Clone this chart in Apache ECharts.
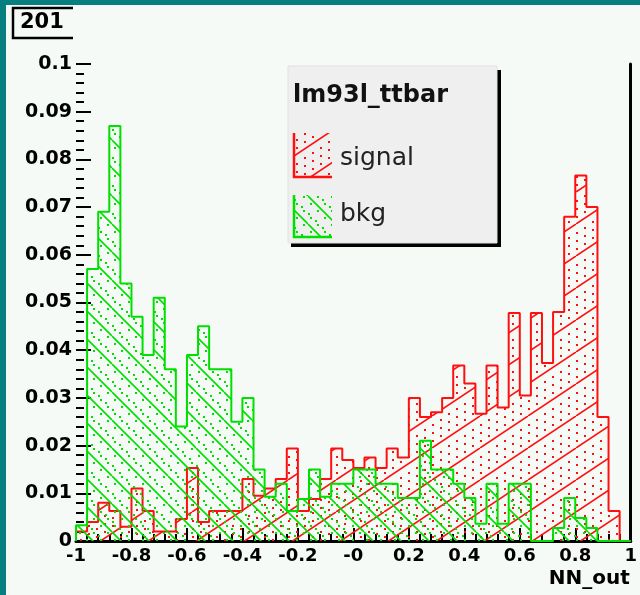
<!DOCTYPE html>
<html>
<head>
<meta charset="utf-8">
<script src="https://cdn.jsdelivr.net/npm/echarts@6/dist/echarts.min.js"></script>
<style>
  html, body { margin: 0; padding: 0; background: #f6faf7; }
  #c { width: 640px; height: 595px; }
</style>
</head>
<body>
<div id="c"></div>
<script>
// ---- data (50 bins of width 0.04 from -1 to 1) ----
const xMin = -1;
const binWidth = 0.04;
const xTickLabels = ['-1', '-0.8', '-0.6', '-0.4', '-0.2', '-0', '0.2', '0.4', '0.6', '0.8', '1'];
const signal = [
  0.002, 0.004, 0.008, 0.0063, 0.003, 0.011, 0.0063, 0.002, 0.002, 0.0046,
  0.0153, 0.004, 0.0063, 0.0063, 0.0063, 0.013, 0.0095, 0.011, 0.013, 0.0194,
  0.0063, 0.0088, 0.013, 0.0194, 0.017, 0.0153, 0.0175, 0.0153, 0.0194, 0.0175,
  0.030, 0.026, 0.027, 0.030, 0.0368, 0.033, 0.0267, 0.0368, 0.028, 0.0478,
  0.0305, 0.0478, 0.0373, 0.048, 0.068, 0.0766, 0.070, 0.026, 0.0063, 0
];
const bkg = [
  0.0033, 0.057, 0.069, 0.087, 0.054, 0.047, 0.039, 0.051, 0.036, 0.024,
  0.039, 0.045, 0.036, 0.036, 0.025, 0.030, 0.015, 0.0093, 0.012, 0.0063,
  0.0088, 0.015, 0.0093, 0.012, 0.012, 0.015, 0.015, 0.012, 0.012, 0.009,
  0.009, 0.021, 0.015, 0.015, 0.012, 0.009, 0.0036, 0.012, 0.0036, 0.012,
  0.012, 0, 0, 0.0027, 0.009, 0.0048, 0.0027, 0, 0, 0
];

const RED = '#ff1010';
const GREEN = '#00e000';

function greenPattern() {
  const S = 28;
  const c = document.createElement('canvas');
  c.width = S; c.height = S;
  const g = c.getContext('2d');
  g.strokeStyle = GREEN; g.lineWidth = 1.6;
  g.beginPath();
  [-S, 0, S].forEach(o => { g.moveTo(o, 0); g.lineTo(o + S, S); });
  g.stroke();
  g.fillStyle = GREEN;
  [7, 14, 21].forEach((off, j) => {
    for (let x = 0; x < S; x += 7) {
      const y = (x + off + (j === 1 ? 3 : 0)) % S;
      g.fillRect(x + (j === 1 ? 0 : 2), y, 2, 2);
    }
  });
  return c;
}
function redPattern() {
  const W = 48, H = 32;
  const c = document.createElement('canvas');
  c.width = W; c.height = H;
  const g = c.getContext('2d');
  g.strokeStyle = RED; g.lineWidth = 1.6;
  g.beginPath();
  [-W, 0, W].forEach(o => { g.moveTo(o, H); g.lineTo(o + W, 0); });
  g.stroke();
  g.fillStyle = RED;
  [8, 16, 24].forEach(off => {
    for (let x = 0; x < W; x += 8) {
      let y = (H - x * H / W - off) % H;
      if (y < 0) y += H;
      g.fillRect(Math.round(x), Math.round(y), 2, 2);
    }
  });
  return c;
}
const redFill = { image: redPattern(), repeat: 'repeat' };
const greenFill = { image: greenPattern(), repeat: 'repeat' };

function histPoints(vals) {
  const pts = [[xMin, 0]];
  vals.forEach((v, i) => pts.push([+(xMin + i * binWidth).toFixed(4), v]));
  const xEnd = +(xMin + vals.length * binWidth).toFixed(4);
  pts.push([xEnd, vals[vals.length - 1]]);
  pts.push([xEnd, 0]);
  return pts;
}

const chart = echarts.init(document.getElementById('c'), null, { renderer: 'canvas' });
const labelFont = { fontFamily: 'DejaVu Sans', fontWeight: 'bold', color: '#000' };

chart.setOption({
  animation: false,
  backgroundColor: '#f6faf7',
  grid: { left: 76, right: 2, top: 64, bottom: 54, show: false },
  xAxis: {
    type: 'value', min: -1, max: 1, interval: 0.2,
    name: 'NN_out', nameLocation: 'end', nameGap: 0,
    nameTextStyle: Object.assign({ fontSize: 20, align: 'right', verticalAlign: 'top', padding: [28, 1, 0, 0] }, labelFont),
    axisLine: { onZero: false, lineStyle: { color: '#000', width: 3 } },
    axisTick: { inside: true, length: 13, lineStyle: { color: '#000', width: 2 } },
    minorTick: { show: true, splitNumber: 5, length: 7, lineStyle: { color: '#000', width: 2 } },
    splitLine: { show: false },
    axisLabel: Object.assign({
      fontSize: 18, margin: 6,
      formatter: (v) => xTickLabels[Math.round((v - xMin) / 0.2)]
    }, labelFont)
  },
  yAxis: [{
    type: 'value', min: 0, max: 0.1, interval: 0.01, position: 'left',
    axisLine: { show: false, onZero: false },
    axisTick: { inside: true, length: 15, lineStyle: { color: '#000', width: 2 } },
    minorTick: { show: true, splitNumber: 5, length: 8, lineStyle: { color: '#000', width: 2 } },
    splitLine: { show: false },
    axisLabel: Object.assign({ fontSize: 19, margin: 4, formatter: (v) => String(+v.toFixed(2)) }, labelFont)
  }, {
    type: 'value', min: 0, max: 0.1, position: 'right',
    axisLine: { show: true, onZero: false, lineStyle: { color: '#000', width: 3 } },
    axisTick: { show: false }, axisLabel: { show: false }, splitLine: { show: false }
  }],
  series: [{
    name: 'signal', type: 'line', step: 'end', symbol: 'none', silent: true, z: 2,
    data: histPoints(signal),
    lineStyle: { color: RED, width: 2 },
    areaStyle: { color: redFill, opacity: 1 }
  }, {
    name: 'bkg', type: 'line', step: 'end', symbol: 'none', silent: true, z: 3,
    data: histPoints(bkg),
    lineStyle: { color: GREEN, width: 2 },
    areaStyle: { color: greenFill, opacity: 1 }
  }],
  graphic: [
    // teal canvas edge
    { type: 'rect', shape: { x: 0, y: 0, width: 640, height: 5 }, style: { fill: '#077f80' }, z: 100 },
    { type: 'rect', shape: { x: 0, y: 0, width: 6, height: 595 }, style: { fill: '#077f80' }, z: 100 },
    // "201" label box
    { type: 'polyline', shape: { points: [[73, 8], [13, 8], [13, 38], [73, 38]] }, style: { stroke: '#000', lineWidth: 2.5, fill: null }, z: 100 },
    { type: 'text', x: 20, y: 23, style: { text: '201', fontFamily: 'DejaVu Sans', fontWeight: 'bold', fontSize: 21, fill: '#000', verticalAlign: 'middle' }, z: 100 },
    // legend
    { type: 'rect', shape: { x: 291, y: 70, width: 210, height: 177 }, style: { fill: '#000' }, z: 100 },
    { type: 'rect', shape: { x: 288, y: 66, width: 209, height: 177 }, style: { fill: '#efefef', stroke: '#e2e2e2', lineWidth: 1 }, z: 101 },
    { type: 'text', x: 293, y: 96, style: { text: 'lm93l_ttbar', fontFamily: 'DejaVu Sans', fontWeight: 'bold', fontSize: 24, fill: '#111', verticalAlign: 'middle' }, z: 102 },
    { type: 'rect', shape: { x: 295, y: 133, width: 37, height: 44 }, style: { fill: redFill }, z: 102 },
    { type: 'polyline', shape: { points: [[294, 133], [294, 177], [332, 177]] }, style: { stroke: RED, lineWidth: 2.5, fill: null }, z: 103 },
    { type: 'text', x: 340, y: 158, style: { text: 'signal', fontFamily: 'DejaVu Sans', fontSize: 25, fill: '#222', verticalAlign: 'middle' }, z: 102 },
    { type: 'rect', shape: { x: 295, y: 195, width: 37, height: 42 }, style: { fill: greenFill }, z: 102 },
    { type: 'polyline', shape: { points: [[294, 195], [294, 237], [332, 237]] }, style: { stroke: GREEN, lineWidth: 2.5, fill: null }, z: 103 },
    { type: 'text', x: 340, y: 214, style: { text: 'bkg', fontFamily: 'DejaVu Sans', fontSize: 25, fill: '#222', verticalAlign: 'middle' }, z: 102 }
  ]
});
</script>
</body>
</html>
